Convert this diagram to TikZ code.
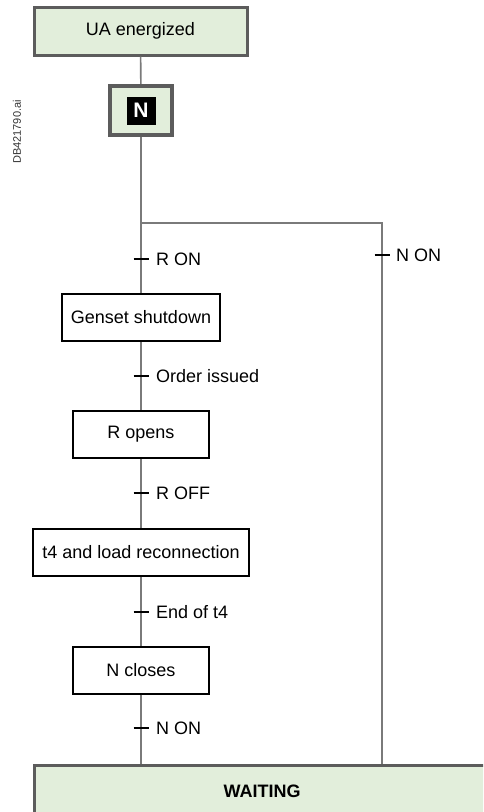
\documentclass[tikz,border=0pt]{standalone}
\usepackage{fontspec}
\setmainfont{Liberation Sans}
\usepackage{tikz}
\usetikzlibrary{calc}
\definecolor{stepgreen}{HTML}{E2EEDB}
\definecolor{framegray}{HTML}{5C5C5C}
\definecolor{linegray}{HTML}{7A7A7A}

\tikzset{
  mainbox/.style={draw=framegray, line width=3pt, fill=stepgreen, inner sep=0pt,
    font=\fontsize{18}{20}\selectfont},
  stepbox/.style={draw=black, line width=2pt, fill=white, inner sep=0pt,
    minimum height=47pt, font=\fontsize{18}{20}\selectfont},
  link/.style={linegray, line width=1.6pt},
  tick/.style={black, line width=1.8pt},
  cond/.style={anchor=west, inner sep=0pt, font=\fontsize{18}{20}\selectfont}
}

\begin{document}
\begin{tikzpicture}[x=1pt, y=-1pt]
    \useasboundingbox (0,0) rectangle (483,812);
    \clip (0,0) rectangle (483,812);

    % Side reference
    \node[rotate=90, font=\fontsize{11}{12}\selectfont, text=black!80] (ref) at (17,132) {DB421790.ai};

    % Steps
    \node[mainbox, minimum width=213pt, minimum height=48pt] (ua) at (140.5,31) {UA energized};
    \node[draw=framegray, line width=4.5pt, fill=stepgreen, minimum width=62pt, minimum height=49pt,
      inner sep=0pt] (n) at (141,110.5) {};
    \node[fill=black, text=white, font=\fontsize{21}{22}\selectfont\bfseries,
      minimum width=29pt, minimum height=28pt, inner sep=0pt] (nlabel) at (n.center) {N};
    \node[stepbox, minimum width=158pt] (genset) at (141,317.5) {Genset shutdown};
    \node[stepbox, minimum width=136pt] (ropens) at (141,434.5) {R opens};
    \node[stepbox, minimum width=216pt] (reconn) at (141,552.5) {t4 and load reconnection};
    \node[stepbox, minimum width=136pt] (ncloses) at (141,670) {N closes};
    \node[mainbox, minimum width=456pt, minimum height=52pt, font=\fontsize{18}{20}\selectfont\bfseries]
      (waiting) at (262,791) {WAITING};

    % Links
    \coordinate (split) at (141,223);
    \coordinate (corner) at (382,223);
    \draw[link] (ua) -- (n);
    \draw[link] (n) -- (split) -- (genset);
    \draw[link] (split) -- (corner) -- (corner |- waiting.north);
    \draw[link] (genset) -- (ropens);
    \draw[link] (ropens) -- (reconn);
    \draw[link] (reconn) -- (ncloses);
    \draw[link] (ncloses) -- (ncloses |- waiting.north);

    % Transitions
    \foreach \y/\txt in {259/R ON, 376/Order issued, 493/R OFF, 612/End of t4, 728/N ON} {
      \draw[tick] (133.5,\y) -- (148.5,\y);
      \node[cond] at (156,\y) {\txt};
    }
    \draw[tick] (374.5,255) -- (389.5,255);
    \node[cond] (non) at (396,255) {N ON};
  \end{tikzpicture}
\end{document}
